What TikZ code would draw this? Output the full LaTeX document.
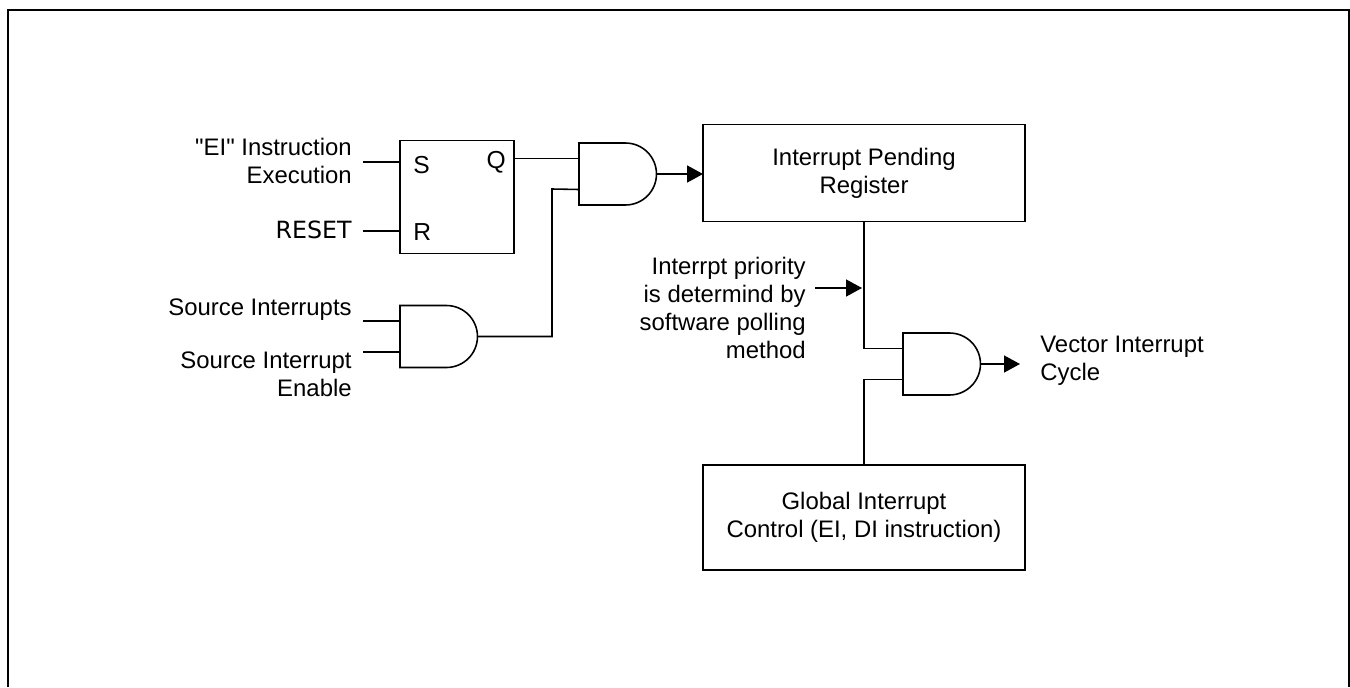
\documentclass[tikz,border=0pt]{standalone}
\usepackage{fontspec}
\setmainfont{Liberation Sans}
\newfontfamily\straightfont{Liberation Sans}
\newfontfamily\resetfont{DejaVu Sans}
\usetikzlibrary{positioning, arrows.meta, shapes.gates.logic.US}
\tikzset{
	x=0.02cm,
	y=-0.02cm,
	andgate/.style= {
		and gate US,
		draw,
		anchor=west,
		logic gate inputs=nn,
		logic gate input sep=0.4133cm,
		inner sep=0,
		outer sep=0,
		line width=0.9pt
	},
	register/.style= {
		rectangle,
		draw,
		align=center,
		minimum width=6.44cm,
		font=\fontsize{13.6}{16}\selectfont,
		inner sep=0,
		outer sep=0,
		line width=0.9pt
	},
	flipflop/.style= {
		rectangle,
		draw,
		minimum width=2.28cm,
		minimum height=2.26cm,
		inner sep=0,
		outer sep=0,
		line width=0.9pt
	},
	sigin/.style= {
		anchor=east,
		align=right,
		inner sep=0,
		font=\fontsize{13.6}{16}\selectfont
	},
	pin/.style= {
		inner sep=0,
		font=\fontsize{14}{16}\selectfont
	},
	wire/.style= {line width=0.9pt},
	arrowwire/.style= {line width=0.9pt, -{Triangle[length=0.32cm,width=0.34cm]}},
}

\begin{document}
\begin{tikzpicture}

	\useasboundingbox (0,0) rectangle (1350,687);
	\coordinate (frameBL) at (8,687);
	\coordinate (frameTL) at (8,10);
	\coordinate (frameTR) at (1349,10);
	\coordinate (frameBR) at (1349,687);
	\draw[line width=1.2pt] (frameBL) -- (frameTL) -- (frameTR) -- (frameBR);

	\node (ff)[flipflop] at (457,197) {};
	\node (gateA)[andgate] at (579,174) {};
	\node (gateB)[andgate] at (400,336.5) {};
	\node (gateC)[andgate] at (903,364) {};
	\node (pending)[register, minimum height=1.94cm] at (864,173) {Interrupt Pending\\Register};
	\node (globalctl)[register, minimum height=2.1cm] at (864,517.5) {Global Interrupt\\Control (EI, DI instruction)};

	\node (pinS)[pin, anchor=west] at (413,165) {S};
	\node (pinQ)[pin, anchor=east] at (506,162) {Q};
	\node (pinR)[pin, anchor=west] at (413,232) {R};

	\node (ei)[sigin] at (352,161) {{\straightfont"EI"} Instruction\\Execution};
	\node (reset)[sigin, font=\resetfont\fontsize{13.5}{16}\selectfont] at (352,230) {RESET};
	\node (srcint)[sigin] at (352,310) {Source Interrupts};
	\node (srcen)[sigin] at (352,374) {Source Interrupt\\Enable};
	\node (priority)[sigin] at (806,308) {Interrpt priority\\is determind by\\software polling\\method};
	\node (vector)[sigin, anchor=west, align=left] at (1040,361) {Vector Interrupt\\Cycle};

	\coordinate (eiEnd) at (363,162);
	\coordinate (resetEnd) at (363,231);
	\coordinate (srcintEnd) at (363,321);
	\coordinate (srcenEnd) at (363,352);
	\coordinate (priorityEnd) at (815,288);
	\coordinate (priorityHit) at (862,288);
	\coordinate (vectorEnd) at (1020,364);
	\coordinate (gateAin1) at ([yshift=0.31cm]gateA.west);
	\coordinate (gateAin2) at ([yshift=-0.31cm]gateA.west);
	\coordinate (gateBin1) at ([yshift=0.31cm]gateB.west);
	\coordinate (gateBin2) at ([yshift=-0.31cm]gateB.west);
	\coordinate (gateCin1) at ([yshift=0.31cm]gateC.west);
	\coordinate (gateCin2) at ([yshift=-0.31cm]gateC.west);

	\draw[wire] (eiEnd) -- (eiEnd -| ff.west);
	\draw[wire] (resetEnd) -- (resetEnd -| ff.west);
	\draw[wire] (srcintEnd) -- (srcintEnd -| gateB.west);
	\draw[wire] (srcenEnd) -- (srcenEnd -| gateB.west);
	\draw[wire] (gateAin1) -- (gateAin1 -| ff.east);
	\draw[wire] (gateB.east) -| (552,189) -- (gateAin2);
	\draw[arrowwire] (gateA.east) -- (gateA.east -| pending.west);
	\draw[wire] (pending.south) |- (gateCin1);
	\draw[arrowwire] (priorityEnd) -- (priorityHit);
	\draw[wire] (globalctl.north) |- (gateCin2);
	\draw[arrowwire] (gateC.east) -- (vectorEnd);

\end{tikzpicture}
\end{document}
